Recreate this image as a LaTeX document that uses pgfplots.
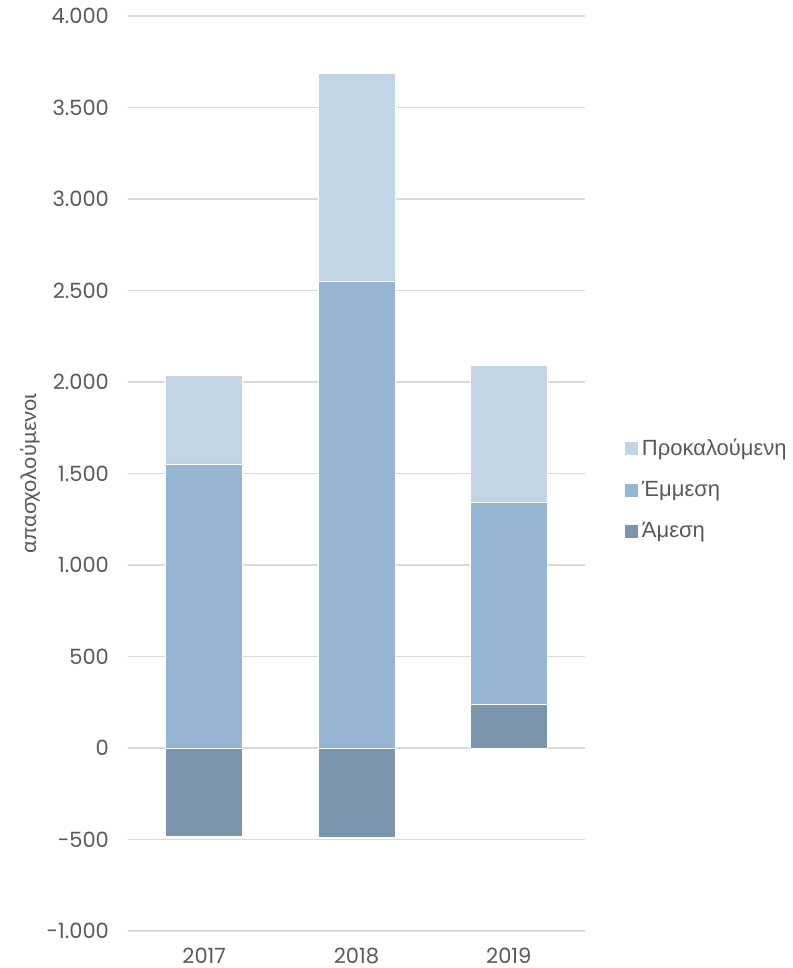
\documentclass[border=0pt]{standalone}
\usepackage{pgfplots}
\pgfplotsset{compat=1.18}
\usepackage{fontspec}
\setmainfont{Liberation Sans}
\newfontfamily\numfont{Poppins}
\newfontfamily\labfont{Lato}
\definecolor{txt}{HTML}{595959}
\definecolor{grd}{HTML}{D9D9D9}
\definecolor{cA}{HTML}{7A95AB}
\definecolor{cE}{HTML}{95B5D2}
\definecolor{cP}{HTML}{C3D4E4}
\begin{document}
\begin{tikzpicture}
\useasboundingbox (-64pt,-18.5pt) rectangle (332pt,465.5pt);
\begin{axis}[
  at={(0,0)}, anchor=south west,
  scale only axis, width=228.5pt, height=457.5pt,
  ybar stacked, bar width=0.505,
  xmin=-0.5, xmax=2.5, ymin=-1000, ymax=4000,
  xtick={0,1,2}, xticklabels={2017,2018,2019},
  ytick={-1000,-500,0,500,1000,1500,2000,2500,3000,3500,4000},
  yticklabels={-1.000,-500,0,500,1.000,1.500,2.000,2.500,3.000,3.500,4.000},
  axis line style={draw=none}, major tick length=0pt,
  ymajorgrids, grid style={grd, line width=0.75pt},
  tick label style={font=\numfont\fontsize{10.5}{12}\selectfont, text=txt},
  yticklabel style={xshift=-6pt},
  xticklabel style={yshift=-5pt},
  ylabel={\labfont\fontsize{10.8}{12}\selectfont απασχολούμενοι},
  ylabel style={text=txt, at={(axis description cs:-0.2144,0.5)}, anchor=center},
  legend style={at={(axis description cs:1.087,0.547)}, anchor=north west, draw=none, fill=none,
    font=\fontsize{11}{13}\selectfont, text=txt, row sep=7.5pt, inner xsep=0pt,
    /tikz/every even column/.append style={column sep=1.5pt}},
  legend cell align=left,
]
\addlegendimage{legend image code/.code={\fill[cP] (0pt,-3pt) rectangle (6pt,3pt);}}
\addlegendentry{Προκαλούμενη}
\addlegendimage{legend image code/.code={\fill[cE] (0pt,-3pt) rectangle (6pt,3pt);}}
\addlegendentry{Έμμεση}
\addlegendimage{legend image code/.code={\fill[cA] (0pt,-3pt) rectangle (6pt,3pt);}}
\addlegendentry{Άμεση}
% Άμεση
\addplot[forget plot, fill=cA, draw=white, line width=0.4pt] coordinates {(0,-485) (1,-488) (2,240)};
% Έμμεση
\addplot[forget plot, fill=cE, draw=white, line width=0.4pt] coordinates {(0,1552) (1,2547) (2,1104)};
% Προκαλούμενη
\addplot[forget plot, fill=cP, draw=white, line width=0.4pt] coordinates {(0,486) (1,1140) (2,745)};
\end{axis}
\end{tikzpicture}
\end{document}
